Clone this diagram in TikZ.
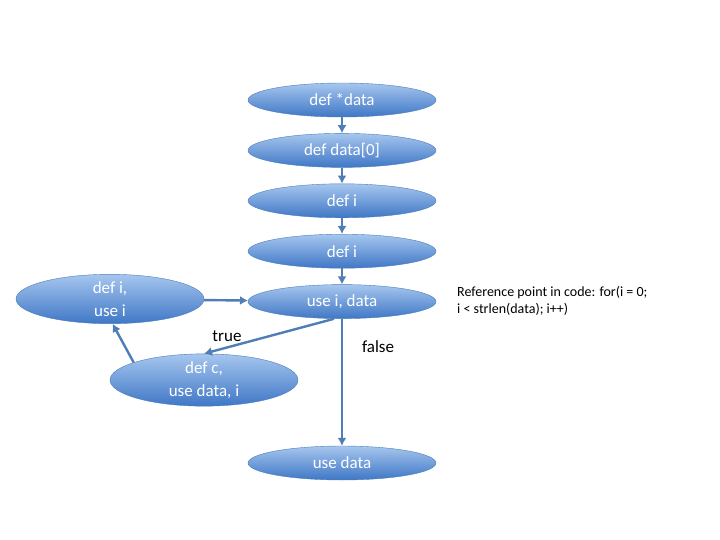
\documentclass[tikz,border=0pt]{standalone}
\usepackage{fontspec}
\setmainfont{Carlito}
\usepackage{tikz}
\usetikzlibrary{shapes,arrows,arrows.meta,positioning}
\definecolor{ell_top}{HTML}{A6C6EE}
\definecolor{ell_bottom}{HTML}{3F77C6}
\definecolor{ell_line}{HTML}{4A7EBB}
\definecolor{arrow_blue}{HTML}{4F7DB5}

\begin{document}
\begin{tikzpicture}[x=1pt,y=-1pt,
block_ell/.style ={ellipse, draw=ell_line, thin, top color=ell_top, bottom color=ell_bottom, text=white, minimum width=188pt, minimum height=34pt, inner sep=0pt, font=\fontsize{17}{19}\selectfont},
block_ell2/.style ={block_ell, align=center, minimum height=46pt, font=\fontsize{17}{23}\selectfont},
block_noborder/.style ={draw=none, fill=none, font=\fontsize{17}{19}\selectfont},
block_note/.style ={draw=none, fill=none, align=left, anchor=north west, inner sep=0pt, font=\fontsize{14}{17}\selectfont},
line/.style ={draw, arrow_blue, line width=2.4pt, -{Latex[length=8pt,width=9pt]}, shorten >=0pt}]
  \useasboundingbox (0,0) rectangle (720,540);
  % main column - definitions
    \node [block_ell] (def_data) at (342,100) {def *data};
    \node [block_ell, below=16pt of def_data] (def_data0) {def data[0]};
    \node [block_ell, below=16pt of def_data0] (def_i1) {def i};
    \node [block_ell, below=16pt of def_i1] (def_i2) {def i};
  % loop head
    \node [block_ell, below=16pt of def_i2] (use_i_data) {use i, data};
  % loop body
    \node [block_ell2] (def_i_use_i) at (110,299) {def i,\\use i};
    \node [block_ell2] (def_c) at (204,380) {def c,\\use data, i};
  % exit
    \node [block_ell] (use_data) at (342,463) {use data};
  % branch labels and note
    \node [block_noborder] (lbl_true) at (227,336) {true};
    \node [block_noborder] (lbl_false) at (378,347) {false};
    \node [block_note] (note) at (457,286) {Reference point in code: for(i = 0;\\i < strlen(data); i++)};
  % connecting nodes with paths
    \begin{scope}[every path/.style=line]
      \path (def_data)    -- (def_data0);
      \path (def_data0)   -- (def_i1);
      \path (def_i1)      -- (def_i2);
      \path (def_i2)      -- (use_i_data);
      \path (def_i_use_i) -- (use_i_data);
      \path (use_i_data.south) ++(-8,0) -- (def_c.north);
      \path (def_c.166)   -- (def_i_use_i.-84);
      \path (use_i_data.south) -- (use_data);
    \end{scope}
  \end{tikzpicture}
\end{document}
